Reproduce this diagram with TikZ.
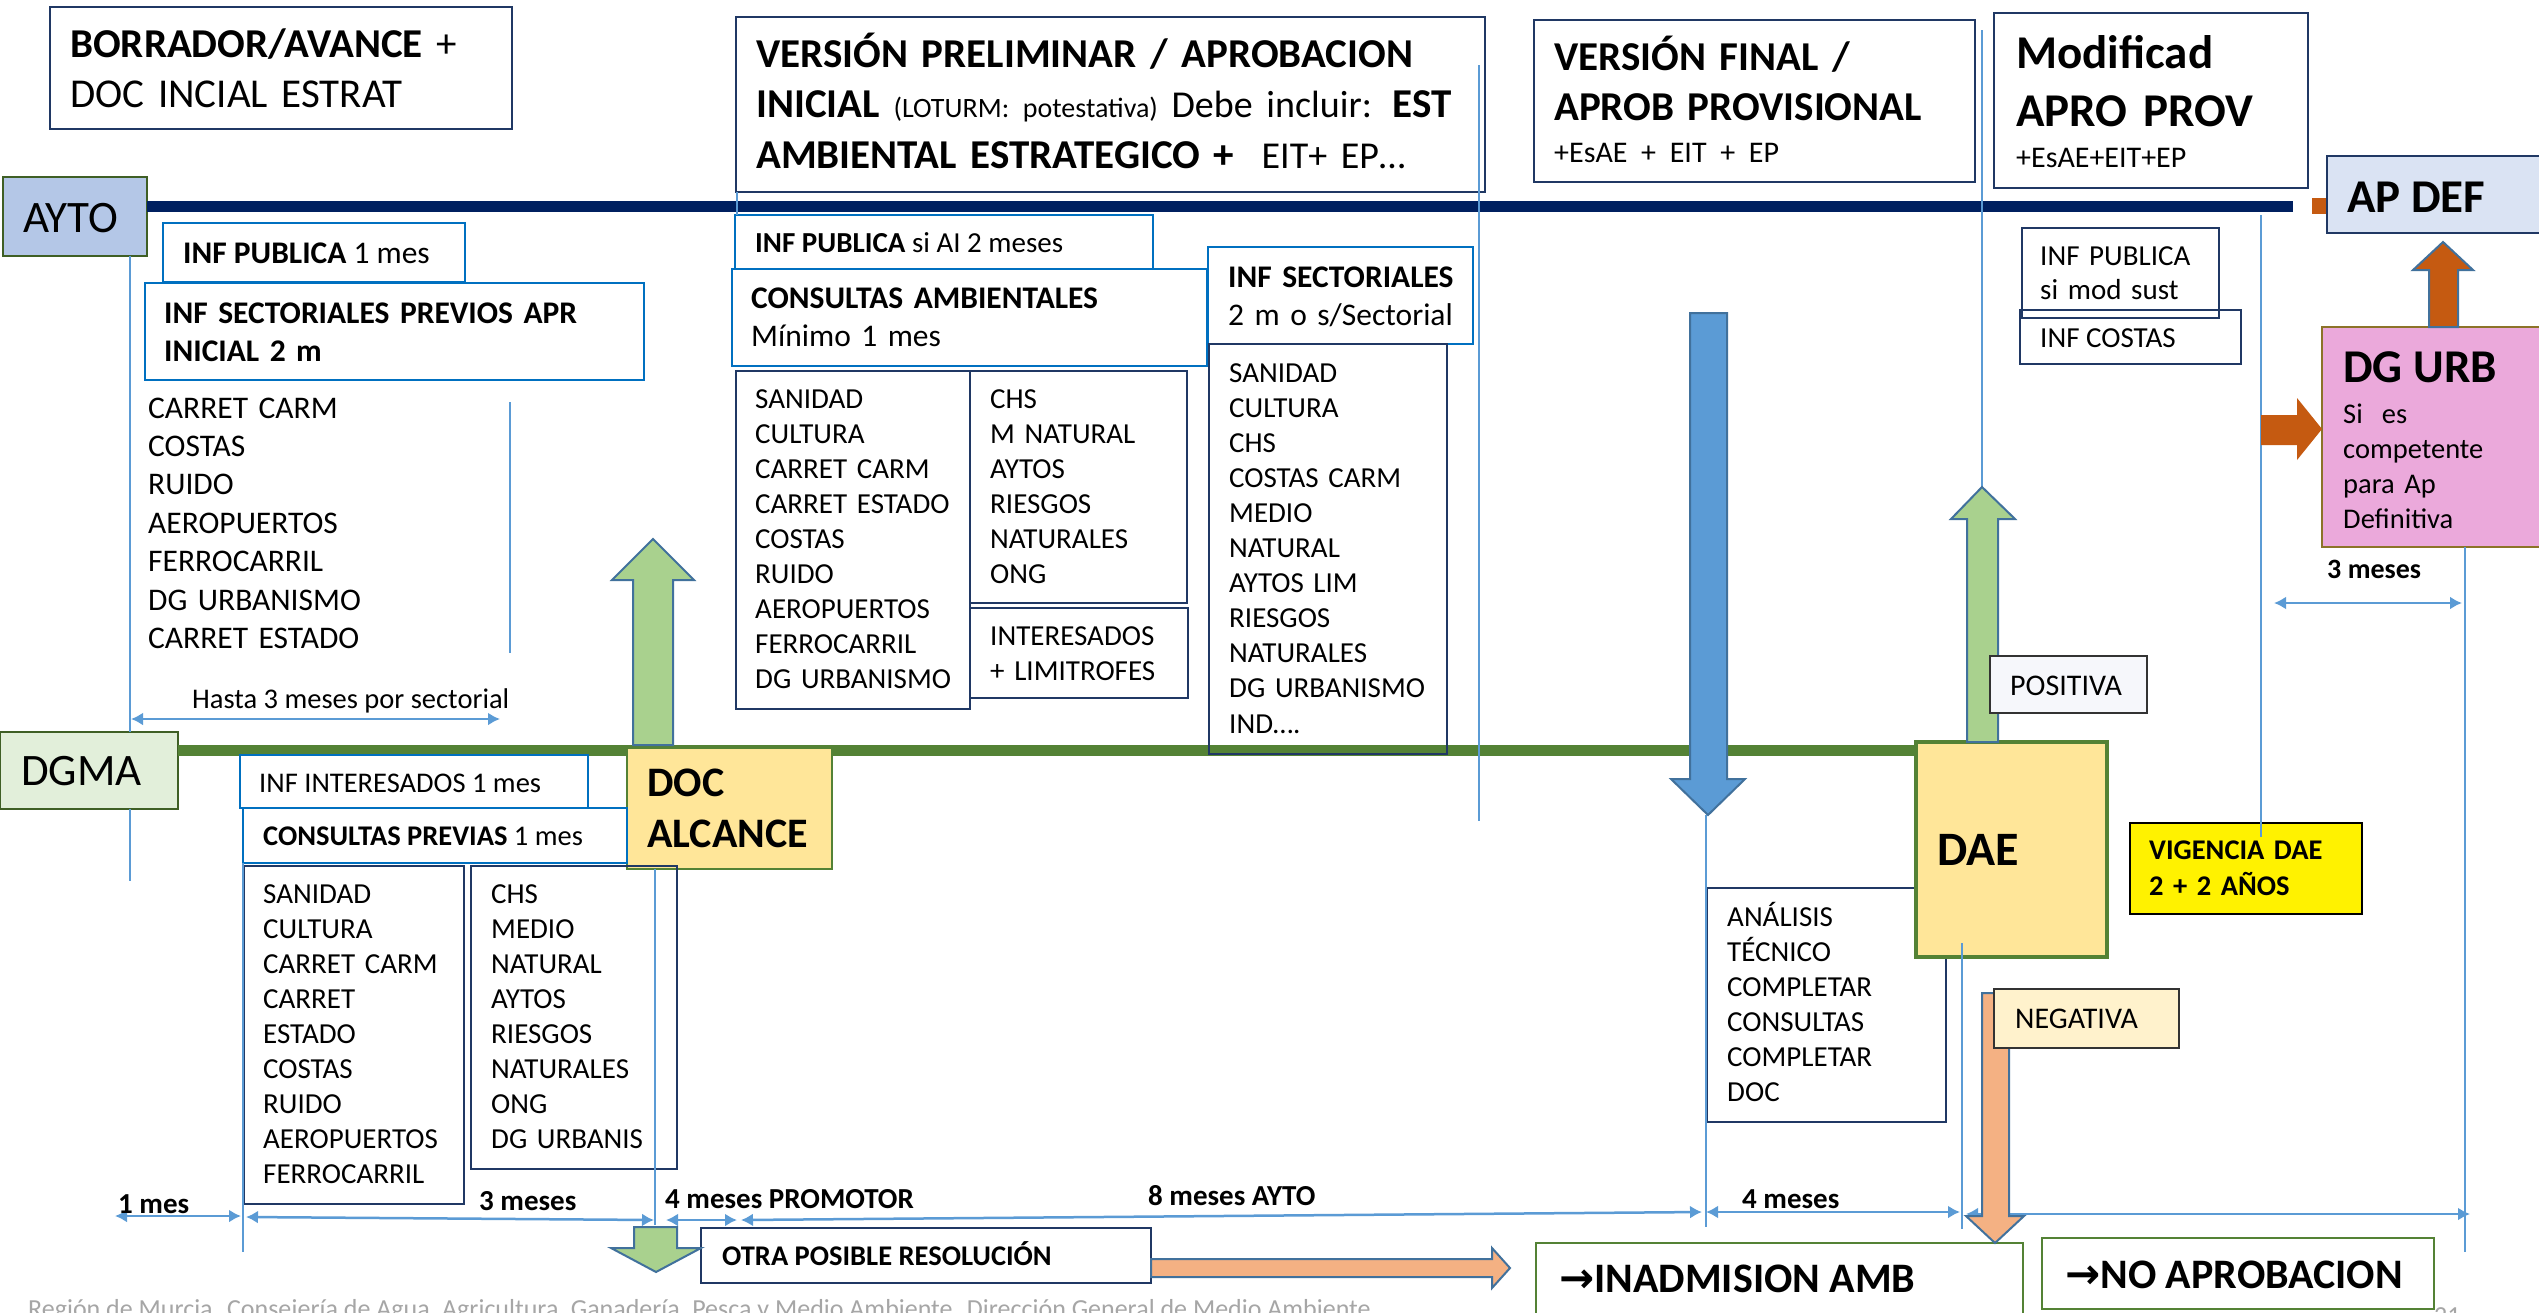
\documentclass[tikz,border=0pt]{standalone}
\usepackage{fontspec}
\setmainfont{Carlito}
\newfontfamily\arrowfont{DejaVu Sans}
\usetikzlibrary{arrows.meta}

\definecolor{navyline}{HTML}{002060}
\definecolor{navybord}{HTML}{203864}
\definecolor{bluebord}{HTML}{0070C0}
\definecolor{guideblue}{HTML}{5B9BD5}
\definecolor{dgmagreen}{HTML}{548235}
\definecolor{arrowgreen}{HTML}{A9D18E}
\definecolor{arrowbord}{HTML}{41719C}
\definecolor{docyellow}{HTML}{FFE699}
\definecolor{rust}{HTML}{C55A11}
\definecolor{peach}{HTML}{F4B183}
\definecolor{urbpink}{HTML}{EBA9DB}
\definecolor{urbbord}{HTML}{8C7328}
\definecolor{apdeffill}{HTML}{DAE3F3}
\definecolor{aytofill}{HTML}{B4C7E7}
\definecolor{dgmafill}{HTML}{E2EFDA}
\definecolor{framegreen}{HTML}{3F5F25}
\definecolor{negfill}{HTML}{FFF2CC}
\definecolor{posfill}{HTML}{F6F7FB}
\definecolor{footgray}{HTML}{A6A6A6}

\tikzset{
  box/.style={anchor=north west, inner sep=0pt, outer sep=0pt},
  navybox/.style={box, draw=navybord, line width=2pt},
  bluebox/.style={box, draw=bluebord, line width=2.5pt},
  greenbox/.style={box, draw=dgmagreen, line width=2.5pt},
  txt/.style={anchor=base west, inner sep=0pt, text width=#1},
  txt/.default=700pt,
  lbl/.style={anchor=base west, inner sep=0pt},
  headtxt/.style={font=\fontsize{41}{50.5}\selectfont},
  listA/.style={font=\fontsize{31.5}{38.4}\selectfont},
  listB/.style={font=\fontsize{29}{35.1}\selectfont},
  smalltxt/.style={font=\fontsize{28.5}{35}\selectfont},
  guideline/.style={draw=guideblue, line width=1.2pt},
  tspan/.style={<->, >={Latex[length=12pt,width=13pt]}, draw=guideblue, line width=2.5pt},
  greenarrow/.style={fill=arrowgreen, draw=arrowbord, line width=2pt},
  peacharrow/.style={fill=peach, draw=arrowbord, line width=2pt},
  bluearrow/.style={fill=guideblue, draw=arrowbord, line width=2pt},
  rustarrow/.style={fill=rust, draw=arrowbord, line width=2pt}
}

\begin{document}
\begin{tikzpicture}[x=1pt, y=-1pt]
  \useasboundingbox (0,0) rectangle (2539,1312);
  \fill[white] (0,0) rectangle (2539,1312);

  \node[box, draw=framegreen, line width=2.5pt, fill=aytofill, minimum width=144, minimum height=79] (ayto) at (3,177) {};
  \node[lbl, font=\fontsize{45}{54}\selectfont] (ayto-txt) at (23,232) {AYTO};
  \node[box, draw=framegreen, line width=2.5pt, fill=dgmafill, minimum width=178, minimum height=77] (dgma) at (0,732) {};
  \node[lbl, font=\fontsize{45}{54}\selectfont] (dgma-txt) at (21,785) {DGMA};

  \coordinate (aytoend) at (2293,206.5);
  \coordinate (dgmaend) at (1916,750.5);
  \draw[line width=11pt, navyline] (ayto.east |- aytoend) -- (aytoend);
  \draw[line width=11pt, dgmagreen] (dgma.east |- dgmaend) -- (dgmaend);
  \fill[rust] (2312,198) rectangle (2327,214);

  \node[navybox, minimum width=462, minimum height=122] (borrador) at (50,7) {};
  \node[txt, headtxt] (borrador-txt) at (70,57) {\textbf{BORRADOR/AVANCE} +\\DOC INCIAL ESTRAT};

  \node[navybox, minimum width=749, minimum height=175] (prelim) at (736,17) {};
  \node[txt, headtxt] (prelim-txt) at (756,67) {\textbf{VERSIÓN PRELIMINAR / APROBACION}\\\textbf{INICIAL} {\fontsize{28}{34}\selectfont(LOTURM: potestativa)} {\fontsize{38}{46}\selectfont Debe incluir:} \textbf{EST}\\\textbf{AMBIENTAL ESTRATEGICO +} {\fontsize{38}{46}\selectfont\ EIT+ EP…}};

  \node[navybox, minimum width=441, minimum height=162] (final) at (1534,20) {};
  \node[txt, font=\fontsize{41}{50}\selectfont] (final-txt) at (1554,70) {\textbf{VERSIÓN FINAL /}\\\textbf{APROB PROVISIONAL}\\[-8pt]{\fontsize{30}{36}\selectfont +EsAE + EIT + EP}};

  \node[navybox, minimum width=314, minimum height=175] (modif) at (1994,13) {};
  \node[txt, font=\fontsize{47}{58}\selectfont] (modif-txt) at (2016,68) {\textbf{Modificad}\\\textbf{APRO PROV}\\[-17pt]{\fontsize{30}{36}\selectfont +EsAE+EIT+EP}};

  \node[navybox, fill=apdeffill, minimum width=240, minimum height=77] (apdef) at (2327,156) {};
  \node[lbl, font=\fontsize{47}{56}\selectfont\bfseries] (apdef-txt) at (2347,212) {AP DEF};

  \node[bluebox, minimum width=302, minimum height=59] (infpub) at (163,223) {};
  \node[lbl, listA] (infpub-txt) at (183,263) {\textbf{INF PUBLICA} 1 mes};
  \node[bluebox, minimum width=499, minimum height=97] (infsec) at (145,283) {};
  \node[txt, listA] (infsec-txt) at (164,323) {\bfseries INF SECTORIALES PREVIOS APR\\INICIAL 2 m};
  \node[txt, listA] (sect-list) at (148,418) {CARRET CARM\\COSTAS\\RUIDO\\AEROPUERTOS\\FERROCARRIL\\DG URBANISMO\\CARRET ESTADO};
  \node[lbl, smalltxt] (hasta-txt) at (192,708) {Hasta 3 meses por sectorial};

  \node[box, draw=dgmagreen, line width=2.5pt, fill=docyellow, minimum width=205, minimum height=121] (docalc) at (627,748) {};
  \node[txt, font=\fontsize{42}{51}\selectfont\bfseries] (docalc-txt) at (647,796) {DOC\\ALCANCE};

  \node[bluebox, minimum width=348, minimum height=53] (infint) at (240,755) {};
  \node[lbl, smalltxt] (infint-txt) at (259,792) {INF INTERESADOS 1 mes};
  \node[bluebox, minimum width=384, minimum height=55] (conprev) at (243,808) {};
  \node[lbl, smalltxt] (conprev-txt) at (263,845) {\textbf{CONSULTAS PREVIAS} 1 mes};
  \node[navybox, minimum width=220, minimum height=338] (prevA) at (244,866) {};
  \node[txt, listB] (prevA-txt) at (263,903) {SANIDAD\\CULTURA\\CARRET CARM\\CARRET\\ESTADO\\COSTAS\\RUIDO\\AEROPUERTOS\\FERROCARRIL};
  \node[navybox, minimum width=206, minimum height=303] (prevB) at (471,866) {};
  \node[txt, listB] (prevB-txt) at (491,903) {CHS\\MEDIO\\NATURAL\\AYTOS\\RIESGOS\\NATURALES\\ONG\\DG URBANIS};

  \node[bluebox, minimum width=418, minimum height=54] (infpai) at (735,215) {};
  \node[lbl, font=\fontsize{29}{35}\selectfont] (infpai-txt) at (755,252) {\textbf{INF PUBLICA} si AI 2 meses};
  \node[bluebox, minimum width=475, minimum height=97] (conamb) at (732,269) {};
  \node[txt, listA] (conamb-txt) at (751,308) {\textbf{CONSULTAS AMBIENTALES}\\Mínimo 1 mes};
  \node[bluebox, minimum width=265, minimum height=97] (infsect) at (1208,247) {};
  \node[txt, listA] (infsect-txt) at (1228,287) {\textbf{INF SECTORIALES}\\2 m o s/Sectorial};

  \node[navybox, minimum width=234, minimum height=338] (listA) at (736,371) {};
  \node[txt, listB] (listA-txt) at (755,408) {SANIDAD\\CULTURA\\CARRET CARM\\CARRET ESTADO\\COSTAS\\RUIDO\\AEROPUERTOS\\FERROCARRIL\\DG URBANISMO};
  \node[navybox, minimum width=217, minimum height=232] (listB) at (970,371) {};
  \node[txt, listB] (listB-txt) at (990,408) {CHS\\M NATURAL\\AYTOS\\RIESGOS\\NATURALES\\ONG};
  \node[navybox, minimum width=218, minimum height=90] (listC) at (970,608) {};
  \node[txt, listB] (listC-txt) at (990,645) {INTERESADOS\\+ LIMITROFES};
  \node[navybox, minimum width=238, minimum height=410] (listD) at (1209,344) {};
  \node[txt, listB] (listD-txt) at (1229,382) {SANIDAD\\CULTURA\\CHS\\COSTAS CARM\\MEDIO\\NATURAL\\AYTOS LIM\\RIESGOS\\NATURALES\\DG URBANISMO\\IND….};

  \node[navybox, minimum width=197, minimum height=90] (infmod) at (2022,228) {};
  \node[txt, font=\fontsize{29}{34}\selectfont] (infmod-txt) at (2040,265) {INF PUBLICA\\si mod sust};
  \node[navybox, minimum width=221, minimum height=54] (infcos) at (2020,310) {};
  \node[lbl, font=\fontsize{29}{34}\selectfont] (infcos-txt) at (2040,347) {INF COSTAS};

  \node[box, draw=urbbord, line width=2pt, fill=urbpink, minimum width=240, minimum height=220] (dgurb) at (2322,327) {};
  \node[lbl, font=\fontsize{47}{56}\selectfont\bfseries] (dgurb-txt) at (2343,382) {DG URB};
  \node[txt, font=\fontsize{28.5}{35}\selectfont] (dgurb-sub) at (2343,423) {Si\ \ es\\competente\\para Ap\\Definitiva};
  \node[lbl, font=\fontsize{28}{34}\selectfont\bfseries] (tres-txt) at (2327,578) {3 meses};

  \node[navybox, minimum width=239, minimum height=234] (analisis) at (1707,888) {};
  \node[txt, listB] (analisis-txt) at (1727,926) {ANÁLISIS\\TÉCNICO\\COMPLETAR\\CONSULTAS\\COMPLETAR\\DOC};
  \node[box, draw=dgmagreen, line width=4.5pt, fill=docyellow, minimum width=191, minimum height=215] (dae) at (1916,742) {};
  \node[lbl, font=\fontsize{48}{56}\selectfont\bfseries] (dae-txt) at (1937,865) {DAE};

  \node[box, draw=black, line width=2pt, fill=yellow, minimum width=232, minimum height=91] (vigencia) at (2130,823) {};
  \node[txt, font=\fontsize{28.5}{36}\selectfont\bfseries] (vigencia-txt) at (2149,859) {VIGENCIA DAE\\2 + 2 AÑOS};

  \node[navybox, minimum width=450, minimum height=55] (otra) at (701,1228) {};
  \node[lbl, font=\fontsize{28.5}{35}\selectfont\bfseries] (otra-txt) at (722,1265) {OTRA POSIBLE RESOLUCIÓN};
  \node[greenbox, minimum width=487, minimum height=100] (inadm) at (1536,1243) {};
  \node[lbl, font=\fontsize{42}{50}\selectfont\bfseries] (inadm-txt) at (1559,1292) {{\arrowfont\bfseries →}INADMISION AMB};
  \node[greenbox, minimum width=392, minimum height=71] (noaprob) at (2042,1238) {};
  \node[lbl, font=\fontsize{42}{50}\selectfont\bfseries] (noaprob-txt) at (2065,1288) {{\arrowfont\bfseries →}NO APROBACION};

  \node[lbl, font=\fontsize{26}{30}\selectfont, text=footgray] (footer) at (28,1317) {Región de Murcia. Consejería de Agua, Agricultura, Ganadería, Pesca y Medio Ambiente. Dirección General de Medio Ambiente};
  \node[lbl, font=\fontsize{26}{30}\selectfont, text=footgray] (pagenum) at (2434,1324) {21};

  \draw[guideline] (130,256) -- (130,732);
  \draw[guideline] (130,809) -- (130,881);
  \draw[guideline] (510,402) -- (510,653);
  \draw[guideline] (243,863) -- (243,1252);
  \draw[guideline] (655,869) -- (655,1225);
  \draw[guideline] (737,192) -- (737,215);
  \draw[guideline] (1479,65) -- (1479,821);
  \draw[guideline] (1982,30) -- (1982,500);
  \draw[guideline] (2261,215) -- (2261,837);
  \draw[guideline] (2465,547) -- (2465,1252);
  \draw[guideline] (1706,815) -- (1706,1227);
  \draw[guideline] (1962,943) -- (1962,1229);

  \coordinate (h0) at (131,719);
  \coordinate (h1) at (500,719);
  \coordinate (u0) at (2274,603);
  \coordinate (u1) at (2462,603);
  \coordinate (m0) at (115,1216);
  \coordinate (m1) at (241,1216);
  \coordinate (m2) at (246,1217);
  \coordinate (m3) at (654,1220);
  \coordinate (m4) at (666,1220);
  \coordinate (m5) at (737,1220);
  \coordinate (m6) at (741,1220);
  \coordinate (m7) at (1702,1212);
  \coordinate (m8) at (1706,1212);
  \coordinate (m9) at (1960,1212);
  \coordinate (m10) at (1966,1214);
  \coordinate (m11) at (2470,1214);
  \begin{scope}[tspan]
    \draw (h0) -- (h1);
    \draw (u0) -- (u1);
    \draw (m0) -- (m1);
    \draw (m2) -- (m3);
    \draw (m4) -- (m5);
    \draw (m6) -- (m7);
    \draw (m8) -- (m9);
    \draw (m10) -- (m11);
  \end{scope}
  \node[lbl, font=\fontsize{29}{34}\selectfont\bfseries] (mes1) at (118,1213) {1 mes};
  \node[lbl, font=\fontsize{29}{34}\selectfont\bfseries] (mes3) at (479,1210) {3 meses};
  \node[lbl, font=\fontsize{29}{34}\selectfont\bfseries] (mes4p) at (665,1208) {4 meses PROMOTOR};
  \node[lbl, font=\fontsize{29}{34}\selectfont\bfseries] (mes8) at (1148,1205) {8 meses AYTO};
  \node[lbl, font=\fontsize{29}{34}\selectfont\bfseries] (mes4) at (1742,1208) {4 meses};

  \draw[greenarrow] (633,745) -- (633,580) -- (612,580) -- (653,539) -- (694,580) -- (673,580) -- (673,745) -- cycle;
  \draw[greenarrow] (634,1227) -- (677,1227) -- (677,1248) -- (701,1248) -- (656,1272) -- (611,1248) -- (634,1248) -- cycle;
  \draw[greenarrow] (1967,742) -- (1967,519) -- (1951,519) -- (1982,487) -- (2015,519) -- (1998,519) -- (1998,742) -- cycle;
  \draw[bluearrow] (1690,313) -- (1727,313) -- (1727,779) -- (1745,779) -- (1708,815) -- (1671,779) -- (1690,779) -- cycle;
  \draw[rustarrow] (2429,327) -- (2429,270) -- (2413,270) -- (2443,242) -- (2473,270) -- (2458,270) -- (2458,327) -- cycle;
  \fill[rust] (2261,415) -- (2297,415) -- (2297,398) -- (2322,429) -- (2297,460) -- (2297,445) -- (2261,445) -- cycle;
  \draw[peacharrow] (1151,1259) -- (1492,1259) -- (1492,1248) -- (1510,1268) -- (1492,1288) -- (1492,1277) -- (1151,1277) -- cycle;
  \draw[peacharrow] (1982,993) -- (2009,993) -- (2009,1216) -- (2024,1216) -- (1995,1243) -- (1966,1216) -- (1982,1216) -- cycle;

  \node[box, draw=black!80, line width=1.5pt, fill=posfill, minimum width=157, minimum height=57] (positiva) at (1990,656) {};
  \node[lbl, font=\fontsize{30}{36}\selectfont] (positiva-txt) at (2010,695) {POSITIVA};
  \node[box, draw=black!80, line width=1.5pt, fill=negfill, minimum width=185, minimum height=59] (negativa) at (1994,989) {};
  \node[lbl, font=\fontsize{30}{36}\selectfont] (negativa-txt) at (2015,1028) {NEGATIVA};
\end{tikzpicture}
\end{document}
